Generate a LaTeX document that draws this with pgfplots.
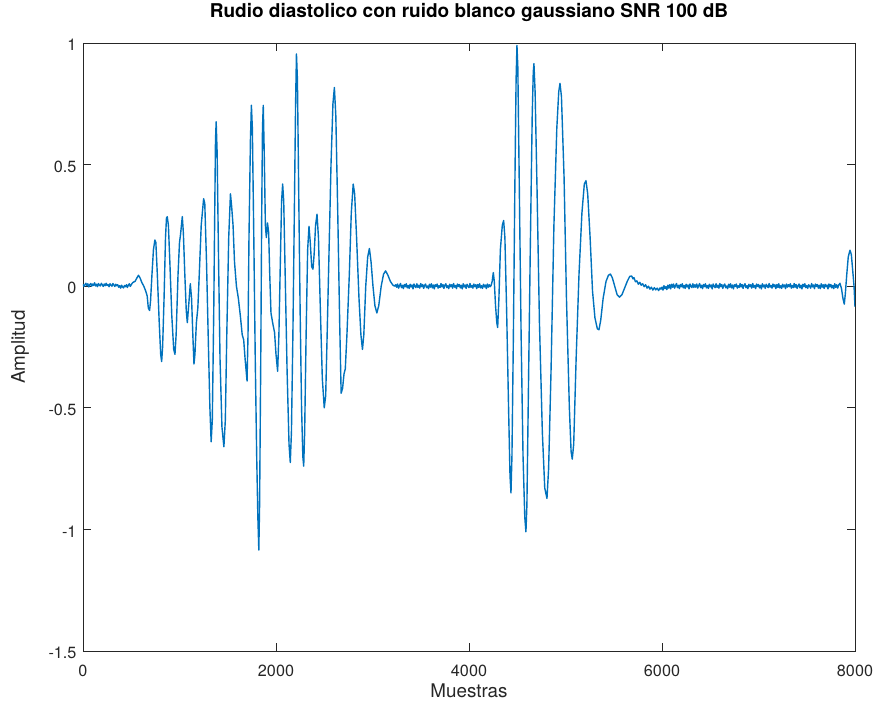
\documentclass[border=0pt]{standalone}
\usepackage{pgfplots}
\pgfplotsset{compat=1.18}
\usepackage{fontspec}
\setmainfont{TeX Gyre Heros}
\definecolor{axgray}{RGB}{38,38,38}
\definecolor{octblue}{RGB}{0,114,189}
\begin{document}
\begin{tikzpicture}
\begin{axis}[
  at={(0,0)}, anchor=south west,
  scale only axis, width=772pt, height=608pt,
  xmin=0, xmax=8000, ymin=-1.5, ymax=1,
  xtick={0,2000,4000,6000,8000}, xticklabels={0,2000,4000,6000,8000},
  ytick={-1.5,-1,-0.5,0,0.5,1}, yticklabels={-1.5,-1,-0.5,0,0.5,1},
  tick align=inside, major tick length=7.7pt,
  axis line style={draw=axgray, line width=0.8pt},
  every tick/.style={draw=axgray, line width=0.8pt},
  tick label style={font=\fontsize{16.2}{18}\selectfont, text=axgray},
  xticklabel style={anchor=center, yshift=-20pt},
  yticklabel style={anchor=east, xshift=-3pt, yshift=-2pt},
  title={Rudio diastolico con ruido blanco gaussiano SNR 100 dB},
  title style={font=\bfseries\fontsize{19}{21}\selectfont, at={(axis description cs:0.5,1)}, anchor=base, yshift=19pt},
  xlabel={Muestras},
  xlabel style={font=\fontsize{18.8}{20}\selectfont, text=axgray, at={(axis description cs:0.5,0)}, anchor=center, yshift=-40pt},
  ylabel={Amplitud},
  ylabel style={font=\fontsize{18.8}{20}\selectfont, text=axgray, at={(axis description cs:-0.0816,0.5)}, anchor=center},
]
\addplot[octblue, line width=1.4pt, line join=round] table {
x y
0 0.008
10 -0.001
20 0.006
30 0.012
40 0.002
50 0.010
60 -0.003
70 0.007
80 0.011
90 0.000
100 0.009
110 0.003
120 0.014
130 0.001
140 0.008
150 -0.002
160 0.011
170 0.004
180 0.001
190 0.012
200 0.006
210 -0.001
220 0.009
230 0.002
240 0.012
250 0.003
260 0.007
270 -0.002
280 0.010
290 0.004
300 0.000
310 0.011
320 0.005
330 -0.001
340 0.008
350 0.002
360 0.006
370 -0.004
380 0.002
390 -0.008
400 0.004
410 -0.003
420 -0.007
430 0.003
440 -0.002
450 0.006
460 -0.005
470 0.004
480 0.010
490 -0.001
500 0.006
510 0.012
520 0.016
540 0.020
560 0.035
575 0.045
590 0.035
610 0.015
630 0.000
650 -0.020
665 -0.040
677 -0.090
690 -0.100
700 -0.060
715 0.05
730 0.15
745 0.19
755 0.18
770 0.05
790 -0.15
805 -0.28
815 -0.31
825 -0.25
840 -0.05
855 0.20
865 0.28
873 0.286
885 0.25
900 0.10
920 -0.12
940 -0.26
953 -0.28
965 -0.20
985 0.05
1000 0.18
1010 0.21
1029 0.286
1040 0.22
1055 0.05
1070 -0.10
1081 -0.15
1095 -0.08
1112 0.01
1125 -0.05
1140 -0.22
1150 -0.32
1160 -0.28
1175 -0.15
1190 -0.09
1205 0.05
1225 0.25
1250 0.36
1262 0.34
1280 0.10
1300 -0.25
1315 -0.50
1328 -0.64
1340 -0.55
1355 -0.10
1365 0.30
1373 0.60
1380 0.676
1390 0.55
1405 0.10
1420 -0.30
1440 -0.58
1460 -0.66
1475 -0.55
1490 -0.20
1510 0.20
1528 0.38
1540 0.33
1555 0.25
1570 0.10
1590 0.00
1610 -0.05
1630 -0.12
1650 -0.20
1665 -0.22
1680 -0.30
1700 -0.39
1710 -0.20
1720 0.20
1735 0.60
1745 0.744
1755 0.65
1770 0.20
1785 -0.30
1800 -0.70
1812 -0.95
1822 -1.085
1830 -0.90
1842 -0.30
1852 0.30
1860 0.65
1868 0.744
1878 0.55
1890 0.25
1900 0.20
1912 0.26
1924 0.22
1935 0.05
1948 -0.11
1965 -0.15
1985 -0.19
2000 -0.28
2017 -0.35
2030 -0.20
2045 0.10
2058 0.35
2069 0.42
2080 0.35
2095 0.05
2115 -0.35
2135 -0.65
2148 -0.725
2160 -0.60
2175 -0.20
2190 0.30
2203 0.75
2212 0.955
2222 0.85
2235 0.40
2250 -0.10
2265 -0.50
2278 -0.70
2287 -0.74
2297 -0.60
2312 -0.20
2328 0.15
2342 0.246
2355 0.18
2370 0.08
2383 0.07
2395 0.13
2410 0.25
2425 0.296
2440 0.20
2460 -0.10
2480 -0.38
2500 -0.50
2515 -0.45
2530 -0.20
2550 0.15
2570 0.50
2590 0.75
2605 0.817
2620 0.70
2640 0.30
2660 -0.15
2675 -0.44
2690 -0.42
2705 -0.36
2718 -0.34
2735 -0.20
2760 0.05
2780 0.30
2800 0.42
2815 0.38
2835 0.20
2860 -0.05
2880 -0.20
2896 -0.26
2910 -0.20
2930 0.00
2950 0.12
2968 0.155
2985 0.10
3005 0.00
3025 -0.08
3045 -0.11
3065 -0.08
3090 0.00
3115 0.05
3136 0.063
3160 0.045
3185 0.02
3210 0.005
3230 0.000
3240 0.006
3250 -0.004
3260 0.009
3270 -0.008
3280 0.002
3290 0.011
3300 -0.006
3310 0.004
3320 -0.010
3330 0.007
3340 -0.002
3350 0.010
3360 -0.007
3370 0.003
3380 -0.009
3390 0.008
3400 -0.003
3410 0.005
3420 -0.011
3430 0.009
3440 0.000
3450 -0.006
3460 0.010
3470 -0.005
3480 0.004
3490 -0.008
3500 0.011
3510 -0.002
3520 0.007
3530 -0.009
3540 0.003
3550 0.009
3560 -0.006
3570 0.001
3580 -0.010
3590 0.008
3600 -0.004
3610 0.010
3620 -0.007
3630 0.005
3640 -0.011
3650 0.006
3660 -0.001
3670 0.009
3680 -0.008
3690 0.002
3700 -0.005
3710 0.011
3720 -0.003
3730 0.007
3740 -0.009
3750 0.004
3760 0.010
3770 -0.006
3780 0.002
3790 -0.010
3800 0.008
3810 -0.002
3820 0.006
3830 -0.008
3840 0.011
3850 -0.004
3860 0.003
3870 -0.010
3880 0.009
3890 -0.001
3900 0.007
3910 -0.007
3920 0.004
3930 -0.011
3940 0.010
3950 -0.003
3960 0.005
3970 -0.009
3980 0.008
3990 0.000
4000 -0.006
4010 0.011
4020 -0.004
4030 0.003
4040 -0.008
4050 0.009
4060 -0.002
4070 0.006
4080 -0.010
4090 0.007
4100 -0.005
4110 0.010
4120 -0.007
4130 0.002
4140 -0.009
4150 0.008
4160 -0.003
4170 0.005
4180 -0.010
4190 0.009
4200 -0.004
4210 0.006
4220 -0.002
4230 0.004
4240 0.020
4252 0.056
4262 0.020
4275 -0.080
4288 -0.150
4297 -0.170
4310 -0.050
4325 0.150
4345 0.250
4359 0.270
4372 0.200
4390 -0.100
4410 -0.500
4425 -0.780
4435 -0.850
4445 -0.700
4460 -0.200
4475 0.400
4488 0.850
4497 0.990
4506 0.900
4520 0.450
4540 -0.200
4560 -0.700
4578 -0.950
4590 -1.010
4600 -0.900
4615 -0.450
4635 0.150
4655 0.700
4666 0.880
4673 0.915
4685 0.800
4705 0.400
4730 -0.150
4760 -0.600
4785 -0.830
4808 -0.873
4825 -0.750
4850 -0.350
4880 0.250
4910 0.650
4930 0.800
4943 0.834
4958 0.780
4985 0.450
5010 -0.050
5040 -0.500
5058 -0.680
5070 -0.711
5085 -0.650
5110 -0.300
5140 0.050
5170 0.300
5195 0.420
5212 0.434
5230 0.380
5255 0.200
5280 -0.020
5305 -0.130
5330 -0.175
5347 -0.179
5365 -0.140
5390 -0.050
5420 0.020
5445 0.045
5465 0.050
5485 0.035
5510 0.000
5535 -0.035
5560 -0.045
5585 -0.035
5610 -0.010
5640 0.020
5665 0.040
5685 0.042
5700 0.030
5710 0.035
5725 0.018
5740 0.022
5755 0.008
5770 0.016
5785 0.004
5800 0.010
5815 -0.002
5830 0.006
5845 -0.008
5860 0.000
5875 -0.012
5890 -0.004
5905 -0.016
5920 -0.006
5935 -0.015
5950 -0.008
5965 -0.018
5980 -0.007
5990 -0.012
6000 -0.004
6010 -0.016
6020 0.002
6030 -0.010
6040 -0.002
6050 -0.014
6060 0.004
6070 -0.008
6080 0.006
6090 -0.011
6100 0.008
6110 -0.004
6120 0.009
6130 -0.008
6140 0.002
6150 0.011
6160 -0.006
6170 0.004
6180 -0.010
6190 0.007
6200 -0.002
6210 0.010
6220 -0.007
6230 0.003
6240 -0.009
6250 0.008
6260 -0.003
6270 0.005
6280 -0.011
6290 0.009
6300 0.000
6310 -0.006
6320 0.010
6330 -0.005
6340 0.006
6350 -0.004
6360 0.009
6370 -0.008
6380 0.002
6390 0.011
6400 -0.006
6410 0.004
6420 -0.010
6430 0.007
6440 -0.002
6450 0.010
6460 -0.007
6470 0.003
6480 -0.009
6490 0.008
6500 -0.003
6510 0.005
6520 -0.011
6530 0.009
6540 0.000
6550 -0.006
6560 0.010
6570 -0.005
6580 0.004
6590 -0.008
6600 0.011
6610 -0.002
6620 0.007
6630 -0.009
6640 0.003
6650 0.009
6660 -0.006
6670 0.001
6680 -0.010
6690 0.008
6700 -0.004
6710 0.010
6720 -0.007
6730 0.005
6740 -0.011
6750 0.006
6760 -0.001
6770 0.009
6780 -0.008
6790 0.002
6800 -0.005
6810 0.011
6820 -0.003
6830 0.007
6840 -0.009
6850 0.004
6860 0.010
6870 -0.006
6880 0.002
6890 -0.010
6900 0.008
6910 -0.002
6920 0.006
6930 -0.008
6940 0.011
6950 -0.004
6960 0.003
6970 -0.010
6980 0.009
6990 -0.001
7000 0.007
7010 -0.007
7020 0.004
7030 -0.011
7040 0.010
7050 -0.003
7060 0.005
7070 -0.009
7080 0.008
7090 0.000
7100 -0.006
7110 0.011
7120 -0.004
7130 0.003
7140 -0.008
7150 0.009
7160 -0.002
7170 0.006
7180 -0.010
7190 0.007
7200 -0.005
7210 0.010
7220 -0.007
7230 0.002
7240 -0.009
7250 0.008
7260 -0.003
7270 0.005
7280 -0.010
7290 0.009
7300 -0.004
7310 0.006
7320 -0.002
7330 0.010
7340 -0.008
7350 0.003
7360 -0.006
7370 0.011
7380 -0.004
7390 0.007
7400 -0.009
7410 0.002
7420 0.009
7430 -0.007
7440 0.004
7450 -0.011
7460 0.008
7470 -0.002
7480 0.010
7490 -0.006
7500 0.003
7510 -0.009
7520 0.006
7530 0.000
7540 -0.008
7550 0.011
7560 -0.003
7570 0.005
7580 -0.010
7590 0.009
7600 -0.001
7610 0.007
7620 -0.008
7630 0.004
7640 -0.010
7650 0.010
7660 -0.004
7670 0.006
7680 -0.009
7690 0.008
7700 -0.002
7710 0.005
7720 -0.011
7730 0.009
7740 -0.003
7750 0.007
7760 -0.007
7770 0.003
7780 -0.010
7790 0.010
7800 -0.005
7810 0.006
7820 -0.008
7830 0.004
7844 0.012
7860 -0.010
7875 -0.050
7889 -0.074
7900 -0.030
7915 0.050
7930 0.120
7948 0.148
7962 0.130
7976 0.066
7990 0.000
8000 -0.085
};
\end{axis}
\pgfresetboundingbox
\path[use as bounding box] (-83pt,-55pt) rectangle (795pt,651pt);
\end{tikzpicture}
\end{document}
